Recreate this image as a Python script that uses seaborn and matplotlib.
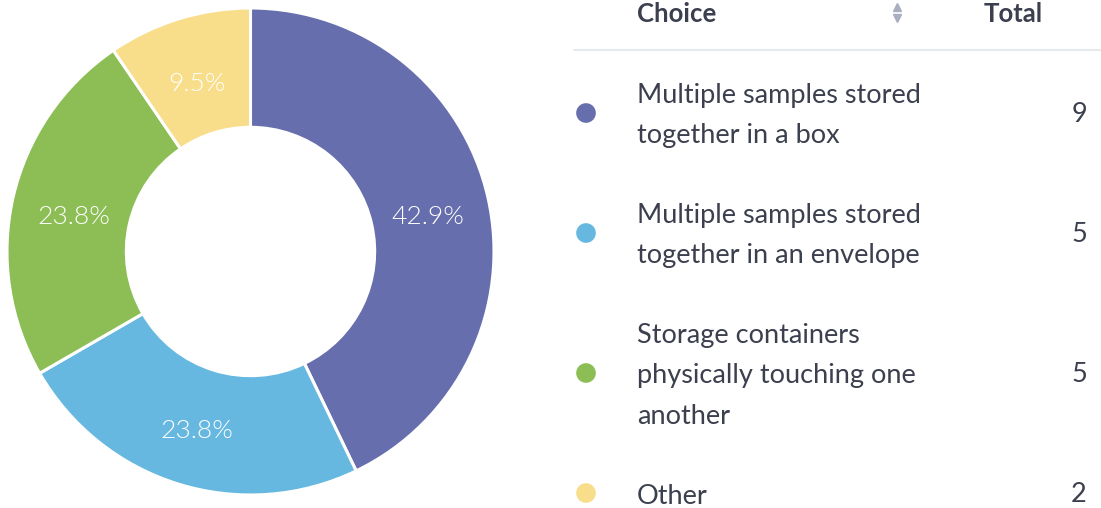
import matplotlib
matplotlib.use("Agg")
import matplotlib.pyplot as plt
import seaborn as sns
import pandas as pd

# ---- data ----
choices = [
    "Multiple samples stored\ntogether in a box",
    "Multiple samples stored\ntogether in an envelope",
    "Storage containers\nphysically touching one\nanother",
    "Other",
]
totals = [9, 5, 5, 2]
colors = ["#666EAD", "#66B8E0", "#8DBE56", "#F8DE8A"]

sns.set_theme(style="white")
plt.rcParams["font.family"] = ["Lato", "DejaVu Sans"]

W, H = 1101, 508
fig = plt.figure(figsize=(W / 100, H / 100), dpi=100)
fig.patch.set_facecolor("white")

# ---- donut ----
cx, cy, R = 250.5, 251.5, 243.5
ax = fig.add_axes([(cx - R) / W, 1 - (cy + R) / H, 2 * R / W, 2 * R / H])
pal = sns.color_palette(colors)
wedges, texts, autotexts = ax.pie(
    totals, colors=pal, startangle=90, counterclock=False,
    radius=1.0, wedgeprops=dict(width=0.49, edgecolor="white", linewidth=2.2),
    autopct=lambda p: f"{p:.1f}%", pctdistance=0.745,
    textprops=dict(color="white", fontsize=19, fontweight=300),
)
for t in autotexts:
    x, y = t.get_position()
    t.set_position((x, y - 6 / R))
ax.set_xlim(-1, 1)
ax.set_ylim(-1, 1)
ax.set_aspect("equal")
ax.axis("off")

# ---- table / legend ----
ax2 = fig.add_axes([0, 0, 1, 1])
ax2.set_xlim(0, W)
ax2.set_ylim(H, 0)
ax2.axis("off")

text_color = "#3b3f4e"
ax2.text(637, 14, "Choice", fontsize=18.5, fontweight="bold", color=text_color,
         ha="left", va="center")
ax2.text(1043, 14, "Total", fontsize=18.5, fontweight="bold", color=text_color,
         ha="right", va="center")
ax2.plot([897], [7], marker="^", markersize=5.5, color="#a9aec0", linestyle="none")
ax2.plot([897], [18], marker="v", markersize=5.5, color="#a9aec0", linestyle="none")
ax2.plot([574, W], [50, 50], color="#e6e8ec", linewidth=1.5)

line_h = 40
y_top = 53
rows_y = []
for lab in choices:
    n = len(lab.split("\n"))
    h = n * line_h + 40
    rows_y.append(y_top + h / 2)
    y_top += h

df = pd.DataFrame({"x": [586] * len(choices), "y": rows_y, "choice": choices})
sns.scatterplot(data=df, x="x", y="y", hue="choice", palette=pal, s=200,
                edgecolor="none", legend=False, ax=ax2)

for lab, val, yc in zip(choices, totals, rows_y):
    lines = lab.split("\n")
    n = len(lines)
    for i, ln in enumerate(lines):
        yy = yc + (i - (n - 1) / 2) * line_h + 3
        ax2.text(637, yy, ln, fontsize=19.5, color=text_color, ha="left", va="center")
    ax2.text(1087, yc + 2, str(val), fontsize=19.5, color=text_color, ha="right", va="center")

ax2.set_xlim(0, W)
ax2.set_ylim(H, 0)
ax2.axis("off")

fig.savefig("out.png", dpi=100, facecolor="white")
